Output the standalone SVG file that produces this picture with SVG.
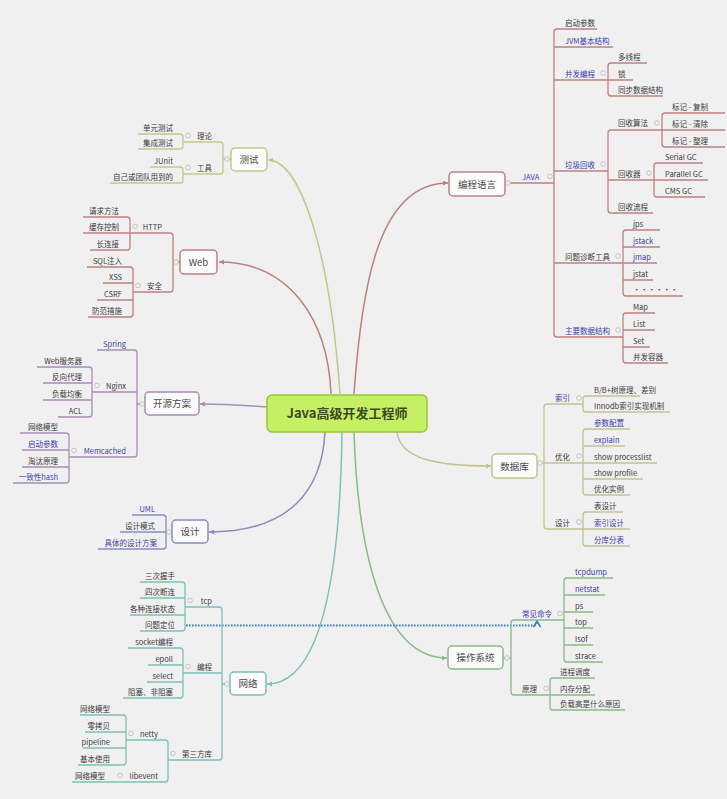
<svg xmlns="http://www.w3.org/2000/svg" width="727" height="799" viewBox="0 0 727 799">
<style>
text{font-family:"Noto Sans CJK SC","Noto Sans",sans-serif;font-size:7.5px;fill:#3a3a3a}
.b{fill:#3b3bb0}
.e{text-anchor:end}
.nt{font-size:9.5px;fill:#4a4a4a;text-anchor:middle}
.box{fill:#fbfbfb;stroke-width:1.5}
.ln{fill:none;stroke-width:1.3}
.cn{fill:none;stroke-width:1.5}
.c{fill:#f4f4f4;stroke:#b8b8b8;stroke-width:0.8}
.red{stroke:#bd8080}
.oli{stroke:#c3c88a}
.dbo{stroke:#c2c290}
.pur{stroke:#a98cb8}
.bpu{stroke:#8a8ac8}
.tea{stroke:#7cc0b8}
.grn{stroke:#88bb88}
</style>
<defs>
<marker id="aR" viewBox="0 0 6 6" refX="6" refY="3" markerWidth="5" markerHeight="5" markerUnits="userSpaceOnUse" orient="auto"><path d="M0,0 L6,3 L0,6 z" fill="#bd8080"/></marker>
<marker id="aO" viewBox="0 0 6 6" refX="6" refY="3" markerWidth="5" markerHeight="5" markerUnits="userSpaceOnUse" orient="auto"><path d="M0,0 L6,3 L0,6 z" fill="#c3c88a"/></marker>
<marker id="aD" viewBox="0 0 6 6" refX="6" refY="3" markerWidth="5" markerHeight="5" markerUnits="userSpaceOnUse" orient="auto"><path d="M0,0 L6,3 L0,6 z" fill="#c2c290"/></marker>
<marker id="aP" viewBox="0 0 6 6" refX="6" refY="3" markerWidth="5" markerHeight="5" markerUnits="userSpaceOnUse" orient="auto"><path d="M0,0 L6,3 L0,6 z" fill="#a98cb8"/></marker>
<marker id="aB" viewBox="0 0 6 6" refX="6" refY="3" markerWidth="5" markerHeight="5" markerUnits="userSpaceOnUse" orient="auto"><path d="M0,0 L6,3 L0,6 z" fill="#8a8ac8"/></marker>
<marker id="aT" viewBox="0 0 6 6" refX="6" refY="3" markerWidth="5" markerHeight="5" markerUnits="userSpaceOnUse" orient="auto"><path d="M0,0 L6,3 L0,6 z" fill="#7cc0b8"/></marker>
<marker id="aG" viewBox="0 0 6 6" refX="6" refY="3" markerWidth="5" markerHeight="5" markerUnits="userSpaceOnUse" orient="auto"><path d="M0,0 L6,3 L0,6 z" fill="#88bb88"/></marker>
<marker id="aRel" viewBox="0 0 8 8" refX="7" refY="4" markerWidth="8" markerHeight="8" markerUnits="userSpaceOnUse" orient="auto"><path d="M1,0.5 L7,4 L1,7.5" fill="none" stroke="#3f7fc8" stroke-width="1.5"/></marker>
</defs>
<rect width="727" height="799" fill="#f0f0f0"/>

<g id="connectors">
<path class="cn oli" d="M 340 394 C 330 250, 300 160, 268 160" marker-end="url(#aO)"/>
<path class="cn red" d="M 354 394 C 362 280, 380 183, 448 183" marker-end="url(#aR)"/>
<path class="cn red" d="M 331 394 C 328 320, 290 262, 219 262" marker-end="url(#aR)"/>
<path class="cn pur" d="M 267 407 C 240 405, 225 404, 200 404" marker-end="url(#aP)"/>
<path class="cn bpu" d="M 325 432 C 322 490, 290 532, 209 532" marker-end="url(#aB)"/>
<path class="cn tea" d="M 342 432 C 340 580, 320 684, 267 684" marker-end="url(#aT)"/>
<path class="cn grn" d="M 354 432 C 358 560, 385 658, 447 658" marker-end="url(#aG)"/>
<path class="cn dbo" d="M 397 432 C 400 460, 440 466, 491 466" marker-end="url(#aD)"/>
<path d="M 186 625.5 H 534 Q 537 625.5 537 621" fill="none" stroke="#3f7fc8" stroke-width="2" stroke-dasharray="1.6 1.4" marker-end="url(#aRel)"/>
</g>

<g id="center">
<rect x="267" y="395" width="160" height="37" rx="5" fill="#c6f063" stroke="#95c43e" stroke-width="1.5"/>
<text x="347" y="418" style="font-size:13px;font-weight:bold;fill:#3c4a22;text-anchor:middle">Java高级开发工程师</text>
</g>

<g id="node-biancheng">
<path class="ln red" d="M 505 183 H 554"/>
<path class="ln red" d="M 597 29 H 557 Q 554 29 554 32 V 334 Q 554 337 557 337 H 623 M 554 47 H 613 M 554 80 H 608 M 554 171 H 608 M 554 263 H 623"/>
<path class="ln red" d="M 647 63 H 611 Q 608 63 608 66 V 93 Q 608 96 611 96 H 663 M 608 80 H 633"/>
<path class="ln red" d="M 662 130 H 611 Q 608 130 608 133 V 210 Q 608 213 611 213 H 653 M 608 180 H 654"/>
<path class="ln red" d="M 725 113 H 665 Q 662 113 662 116 V 144 Q 662 147 665 147 H 725 M 662 130 H 725"/>
<path class="ln red" d="M 703 163 H 657 Q 654 163 654 166 V 194 Q 654 197 657 197 H 705 M 654 180 H 708"/>
<path class="ln red" d="M 660 230 H 626 Q 623 230 623 233 V 293 Q 623 296 626 296 H 683 M 623 247 H 660 M 623 263 H 657 M 623 280 H 653"/>
<path class="ln red" d="M 655 313 H 626 Q 623 313 623 316 V 360 Q 623 363 626 363 H 668 M 623 330 H 655 M 623 347 H 650"/>
<rect class="box red" x="449" y="172" width="56" height="24" rx="4"/>
<text class="nt" x="477" y="187.5">编程语言</text>
<text class="b" x="522" y="179.5">JAVA</text>
<text x="565" y="25.5">启动参数</text>
<text class="b" x="565" y="43.5">JVM基本结构</text>
<text class="b" x="565" y="76.5">并发编程</text>
<text class="b" x="565" y="167.5">垃圾回收</text>
<text x="565" y="259.5">问题诊断工具</text>
<text class="b" x="565" y="333.5">主要数据结构</text>
<text x="618" y="59.5">多线程</text>
<text x="618" y="76.5">锁</text>
<text x="618" y="92.5">同步数据结构</text>
<text x="618" y="125.5">回收算法</text>
<text x="618" y="176.5">回收器</text>
<text x="618" y="209.5">回收流程</text>
<text x="672" y="109.5">标记 - 复制</text>
<text x="672" y="126.5">标记 - 清除</text>
<text x="672" y="143.5">标记 - 整理</text>
<text x="665" y="159.5">Serial GC</text>
<text x="665" y="176.5">Parallel GC</text>
<text x="665" y="193.5">CMS GC</text>
<text x="633" y="226.5">jps</text>
<text class="b" x="633" y="243.5">jstack</text>
<text class="b" x="633" y="259.5">jmap</text>
<text x="633" y="276.5">jstat</text>
<text x="633" y="292.5">・・・・・・</text>
<text x="633" y="309.5">Map</text>
<text x="633" y="326.5">List</text>
<text x="633" y="343.5">Set</text>
<text x="633" y="359.5">并发容器</text>
<circle class="c" cx="508" cy="183" r="2.3"/>
<circle class="c" cx="550" cy="176.5" r="2.3"/>
<circle class="c" cx="603" cy="73" r="2.3"/>
<circle class="c" cx="603" cy="164" r="2.3"/>
<circle class="c" cx="657" cy="123" r="2.3"/>
<circle class="c" cx="649" cy="173" r="2.3"/>
<circle class="c" cx="618" cy="256" r="2.3"/>
<circle class="c" cx="618" cy="330" r="2.3"/>
</g>

<g id="node-shujuku">
<path class="ln dbo" d="M 583 404 H 547 Q 544 404 544 407 V 526 Q 544 529 547 529 H 583 M 537 463 H 583"/>
<path class="ln dbo" d="M 640 396 H 586 Q 583 396 583 399 V 409 Q 583 412 586 412 H 670"/>
<path class="ln dbo" d="M 630 429 H 586 Q 583 429 583 432 V 492 Q 583 495 586 495 H 630 M 583 446 H 625 M 583 463 H 657 M 583 479 H 643"/>
<path class="ln dbo" d="M 623 512 H 586 Q 583 512 583 515 V 543 Q 583 546 586 546 H 630 M 583 529 H 630"/>
<rect class="box dbo" x="492" y="454" width="45" height="24" rx="4"/>
<text class="nt" x="514.5" y="469.5">数据库</text>
<text class="b" x="555" y="400.5">索引</text>
<text x="555" y="459.5">优化</text>
<text x="555" y="525.5">设计</text>
<text x="594" y="392.5">B/B+树原理、差别</text>
<text x="594" y="408.5">Innodb索引实现机制</text>
<text class="b" x="594" y="425.5">参数配置</text>
<text class="b" x="594" y="442.5">explain</text>
<text x="594" y="459.5">show processlist</text>
<text x="594" y="475.5">show profile</text>
<text x="594" y="491.5">优化实例</text>
<text x="594" y="508.5">表设计</text>
<text class="b" x="594" y="525.5">索引设计</text>
<text class="b" x="594" y="542.5">分库分表</text>
<circle class="c" cx="540" cy="463" r="2.3"/>
<circle class="c" cx="579" cy="398" r="2.3"/>
<circle class="c" cx="579" cy="456" r="2.3"/>
<circle class="c" cx="579" cy="522" r="2.3"/>
</g>

<g id="node-caozuoxitong">
<path class="ln grn" d="M 564 620 H 514 Q 511 620 511 623 V 692 Q 511 695 514 695 H 550 M 503 658 H 511"/>
<path class="ln grn" d="M 613 578 H 567 Q 564 578 564 581 V 659 Q 564 662 567 662 H 603 M 564 595 H 605 M 564 612 H 593 M 564 628 H 593 M 564 645 H 593"/>
<path class="ln grn" d="M 595 678 H 553 Q 550 678 550 681 V 707 Q 550 710 553 710 H 625 M 550 695 H 595"/>
<rect class="box grn" x="448" y="646" width="55" height="23" rx="4"/>
<text class="nt" x="475.5" y="661">操作系统</text>
<text class="b" x="522" y="616.5">常见命令</text>
<text x="522" y="691.5">原理</text>
<text class="b" x="575" y="574.5">tcpdump</text>
<text class="b" x="575" y="591.5">netstat</text>
<text x="575" y="608.5">ps</text>
<text x="575" y="624.5">top</text>
<text x="575" y="641.5">lsof</text>
<text x="575" y="658.5">strace</text>
<text x="560" y="674.5">进程调度</text>
<text x="560" y="691.5">内存分配</text>
<text x="560" y="706.5">负载高是什么原因</text>
<circle class="c" cx="507" cy="658" r="2.3"/>
<circle class="c" cx="560" cy="613.5" r="2.3"/>
<circle class="c" cx="546" cy="688.5" r="2.3"/>
</g>

<g id="node-ceshi">
<path class="ln oli" d="M 183 142 H 220 Q 223 142 223 145 V 171 Q 223 174 220 174 H 183 M 231 159 H 223"/>
<path class="ln oli" d="M 138 134 H 180 Q 183 134 183 137 V 146 Q 183 149 180 149 H 138"/>
<path class="ln oli" d="M 150 167 H 180 Q 183 167 183 170 V 180 Q 183 183 180 183 H 110"/>
<rect class="box oli" x="231" y="148" width="36" height="23" rx="4"/>
<text class="nt" x="249" y="163">测试</text>
<text class="e" x="212" y="138.5">理论</text>
<text class="e" x="212" y="170.5">工具</text>
<text class="e" x="173" y="130.5">单元测试</text>
<text class="e" x="173" y="145.5">集成测试</text>
<text class="e" x="173" y="163.5">JUnit</text>
<text class="e" x="173" y="179.5">自己或团队用到的</text>
<circle class="c" cx="227" cy="159" r="2.3"/>
<circle class="c" cx="188" cy="135.5" r="2.3"/>
<circle class="c" cx="188" cy="167.5" r="2.3"/>
</g>

<g id="node-web">
<path class="ln red" d="M 130 233 H 170 Q 173 233 173 236 V 289 Q 173 292 170 292 H 133 M 180 262 H 173"/>
<path class="ln red" d="M 83 217 H 127 Q 130 217 130 220 V 247 Q 130 250 127 250 H 90 M 130 233 H 83"/>
<path class="ln red" d="M 87 267 H 130 Q 133 267 133 270 V 314 Q 133 317 130 317 H 88 M 133 283 H 103 M 133 300 H 97"/>
<rect class="box red" x="180" y="250" width="37" height="24" rx="4"/>
<text class="nt" x="198.5" y="265.5">Web</text>
<text class="e" x="162" y="229.5">HTTP</text>
<text class="e" x="162" y="288.5">安全</text>
<text class="e" x="119" y="213.5">请求方法</text>
<text class="e" x="119" y="229.5">缓存控制</text>
<text class="e" x="119" y="246.5">长连接</text>
<text class="e" x="122" y="263.5">SQL注入</text>
<text class="e" x="122" y="279.5">XSS</text>
<text class="e" x="122" y="296.5">CSRF</text>
<text class="e" x="122" y="313.5">防范措施</text>
<circle class="c" cx="176" cy="262" r="2.3"/>
<circle class="c" cx="135" cy="226.5" r="2.3"/>
<circle class="c" cx="138" cy="285.5" r="2.3"/>
</g>

<g id="node-kaiyuan">
<path class="ln pur" d="M 97 350 H 134 Q 137 350 137 353 V 454 Q 137 457 134 457 H 69 M 137 392 H 92 M 145 404 H 137"/>
<path class="ln pur" d="M 37 367 H 89 Q 92 367 92 370 V 414 Q 92 417 89 417 H 58 M 92 383 H 43 M 92 400 H 43"/>
<path class="ln pur" d="M 20 433 H 66 Q 69 433 69 436 V 480 Q 69 483 66 483 H 13 M 69 450 H 22 M 69 467 H 22"/>
<rect class="box pur" x="145" y="392" width="54" height="23" rx="4"/>
<text class="nt" x="172" y="407">开源方案</text>
<text class="e b" x="126" y="346.5">Spring</text>
<text class="e" x="126" y="388.5">Nginx</text>
<text class="e b" x="126" y="453.5">Memcached</text>
<text class="e" x="82" y="363.5">Web服务器</text>
<text class="e" x="82" y="379.5">反向代理</text>
<text class="e" x="82" y="396.5">负载均衡</text>
<text class="e" x="82" y="413.5">ACL</text>
<text class="e" x="58" y="429.5">网络模型</text>
<text class="e b" x="58" y="446.5">启动参数</text>
<text class="e" x="58" y="463.5">淘汰原理</text>
<text class="e b" x="58" y="479.5">一致性hash</text>
<circle class="c" cx="142" cy="404" r="2.3"/>
<circle class="c" cx="97" cy="385.5" r="2.3"/>
<circle class="c" cx="74" cy="450.5" r="2.3"/>
</g>

<g id="node-sheji">
<path class="ln bpu" d="M 132 515 H 163 Q 166 515 166 518 V 546 Q 166 549 163 549 H 98 M 166 532 H 120 M 172 532 H 166"/>
<rect class="box bpu" x="172" y="520" width="36" height="23" rx="4"/>
<text class="nt" x="190" y="535">设计</text>
<text class="e b" x="155" y="511.5">UML</text>
<text class="e" x="155" y="528.5">设计模式</text>
<text class="e b" x="157" y="545.5">具体的设计方案</text>
<circle class="c" cx="169" cy="532" r="2.3"/>
</g>

<g id="node-wangluo">
<path class="ln tea" d="M 185 607 H 219 Q 222 607 222 610 V 757 Q 222 760 219 760 H 168 M 222 673 H 183 M 230 684 H 222"/>
<path class="ln tea" d="M 140 582 H 182 Q 185 582 185 585 V 628 Q 185 631 182 631 H 140 M 185 598 H 140 M 185 615 H 130"/>
<path class="ln tea" d="M 128 648 H 180 Q 183 648 183 651 V 695 Q 183 698 180 698 H 123 M 183 665 H 148 M 183 682 H 147"/>
<path class="ln tea" d="M 126 740 H 165 Q 168 740 168 743 V 779 Q 168 782 165 782 H 115"/>
<path class="ln tea" d="M 80 715 H 123 Q 126 715 126 718 V 762 Q 126 765 123 765 H 78 M 126 732 H 85 M 126 748 H 83"/>
<path class="ln tea" d="M 115 782 H 72"/>
<rect class="box tea" x="230" y="672" width="36" height="23" rx="4"/>
<text class="nt" x="248" y="687">网络</text>
<text class="e" x="212" y="603.5">tcp</text>
<text class="e" x="212" y="669.5">编程</text>
<text class="e" x="212" y="756.5">第三方库</text>
<text class="e" x="175" y="578.5">三次握手</text>
<text class="e" x="175" y="594.5">四次断连</text>
<text class="e" x="175" y="611.5">各种连接状态</text>
<text class="e" x="175" y="627.5">问题定位</text>
<text class="e" x="173" y="644.5">socket编程</text>
<text class="e" x="173" y="661.5">epoll</text>
<text class="e" x="173" y="678.5">select</text>
<text class="e" x="173" y="694.5">阻塞、非阻塞</text>
<text class="e" x="158" y="736.5">netty</text>
<text class="e" x="158" y="778.5">libevent</text>
<text class="e" x="110" y="711.5">网络模型</text>
<text class="e" x="110" y="728.5">零拷贝</text>
<text class="e" x="110" y="744.5">pipeline</text>
<text class="e" x="110" y="761.5">基本使用</text>
<text class="e" x="105" y="778.5">网络模型</text>
<circle class="c" cx="227" cy="684" r="2.3"/>
<circle class="c" cx="190" cy="600.5" r="2.3"/>
<circle class="c" cx="188" cy="666.5" r="2.3"/>
<circle class="c" cx="173" cy="753.5" r="2.3"/>
<circle class="c" cx="131" cy="733.5" r="2.3"/>
<circle class="c" cx="120" cy="775.5" r="2.3"/>
</g>
</svg>
